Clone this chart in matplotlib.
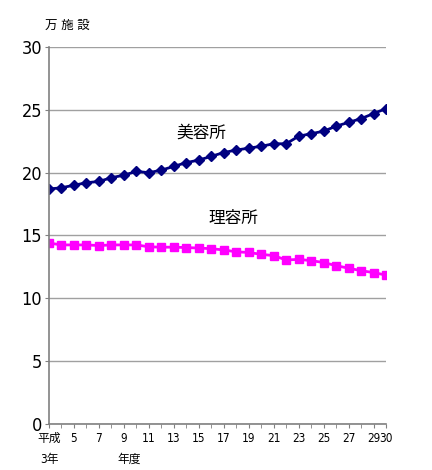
import numpy as np
import matplotlib.pyplot as plt

plt.rcParams['font.family'] = ['DejaVu Sans', 'Noto Sans CJK JP']
plt.rcParams['font.stretch'] = 'condensed'

years = list(range(3, 31))
biyo = [18.7, 18.8, 19.0, 19.2, 19.3, 19.6, 19.8, 20.1, 20.0, 20.2,
        20.5, 20.8, 21.0, 21.3, 21.6, 21.8, 21.95, 22.1, 22.3, 22.3,
        22.9, 23.1, 23.3, 23.7, 24.0, 24.3, 24.7, 25.1]
riyo = [14.4, 14.25, 14.25, 14.25, 14.2, 14.25, 14.25, 14.25, 14.1, 14.07,
        14.07, 14.04, 14.0, 13.95, 13.85, 13.7, 13.65, 13.5, 13.4, 13.05,
        13.1, 13.0, 12.85, 12.6, 12.4, 12.2, 12.05, 11.85]
xtick_years = [3, 5, 7, 9, 11, 13, 15, 17, 19, 21, 23, 25, 27, 29, 30]
xtick_labels = ['平成', '5', '7', '9', '11', '13', '15', '17', '19', '21',
                '23', '25', '27', '29', '30']

fig = plt.figure(figsize=(4.32, 4.70), dpi=100)
ax = fig.add_axes([0.1134, 0.0979, 0.7801, 0.8021])

ax.plot(years, biyo, color='#000080', marker='D', markersize=5.5, linewidth=2)
ax.plot(years, riyo, color='#FF00FF', marker='s', markersize=5.5, linewidth=2)

ax.set_xlim(3, 30)
ax.set_ylim(0, 30)
ax.set_yticks(np.arange(0, 31, 5))
ax.yaxis.grid(True, color='#a0a0a0', linewidth=1)
ax.set_axisbelow(True)
ax.tick_params(axis='y', labelsize=13, length=3, color='#808080', pad=2)

ax.set_xticks(years, minor=True)
ax.set_xticks(xtick_years)
ax.set_xticklabels(xtick_labels, fontsize=8.5)
ax.tick_params(axis='x', which='both', length=3, color='#808080', pad=3)

for side in ['top', 'right']:
    ax.spines[side].set_visible(False)
for side in ['left', 'bottom']:
    ax.spines[side].set_color('#808080')
    ax.spines[side].set_linewidth(1.2)

ax.text(3, -2.3, '3年', fontsize=8.5, ha='center', va='top')
ax.text(9.4, -2.3, '年度', fontsize=8.5, ha='center', va='top')
fig.text(0.105, 0.945, '万 施 設', fontsize=9, ha='left', va='center')
ax.text(15.2, 23.2, '美容所', fontsize=12, ha='center', va='center')
ax.text(17.8, 16.4, '理容所', fontsize=12, ha='center', va='center')

fig.savefig('out.png', dpi=100)
